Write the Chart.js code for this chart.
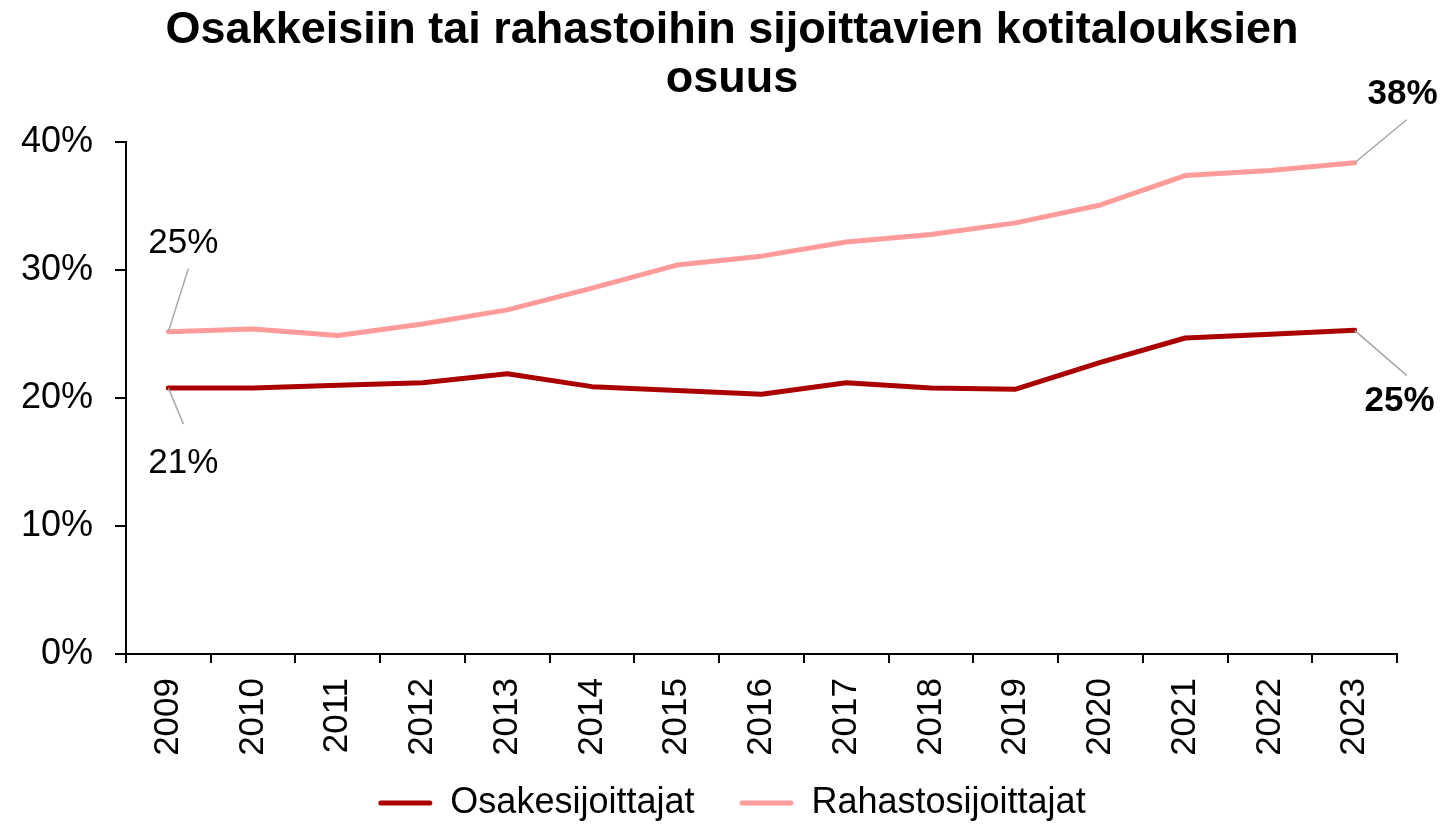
<!DOCTYPE html>
<html><head><meta charset="utf-8">
<script src="https://cdn.jsdelivr.net/npm/chart.js@4"></script>
<style>html,body{margin:0;padding:0;background:#fff}</style>
</head><body>
<canvas id="c" width="1445" height="824"></canvas>
<script>
const years = ['2009','2010','2011','2012','2013','2014','2015','2016','2017','2018','2019','2020','2021','2022','2023'];
const osakeValues = [20.8, 20.8, 21.0, 21.2, 21.9, 20.9, 20.6, 20.3, 21.2, 20.8, 20.7, 22.8, 24.7, 25.0, 25.3];
const rahastoValues = [25.2, 25.4, 24.9, 25.8, 26.9, 28.6, 30.4, 31.1, 32.2, 32.8, 33.7, 35.1, 37.4, 37.8, 38.4];
const yTicks = [0, 10, 20, 30, 40];
const titleLines = ['Osakkeisiin tai rahastoihin sijoittavien kotitalouksien', 'osuus'];
const seriesNames = ['Osakesijoittajat', 'Rahastosijoittajat'];

const FONT = '"Liberation Sans", Arial, sans-serif';
Chart.defaults.font.family = FONT;
Chart.defaults.color = '#000';

const last = years.length - 1;
const labelSpecs = [
  {ds: 1, idx: 0, lx: 20, ly: -63, tx: 15, ty: -88, bold: false},
  {ds: 0, idx: 0, lx: 15, ly: 36, tx: 15, ty: 75, bold: false},
  {ds: 1, idx: last, lx: 52, ly: -43, tx: 48, ty: -68, bold: true},
  {ds: 0, idx: last, lx: 52, ly: 45, tx: 45, ty: 71, bold: true}
];

const pointLabels = {
  id: 'pointLabels',
  afterDatasetsDraw(chart) {
    const ctx = chart.ctx;
    ctx.save();
    labelSpecs.forEach(s => {
      const pt = chart.getDatasetMeta(s.ds).data[s.idx];
      const v = chart.data.datasets[s.ds].data[s.idx];
      ctx.strokeStyle = '#A6A6A6';
      ctx.lineWidth = 1.5;
      ctx.beginPath();
      ctx.moveTo(pt.x, pt.y);
      ctx.lineTo(pt.x + s.lx, pt.y + s.ly);
      ctx.stroke();
      ctx.fillStyle = '#000';
      ctx.font = (s.bold ? 'bold ' : '') + '35px ' + FONT;
      ctx.textAlign = 'center';
      ctx.textBaseline = 'middle';
      ctx.fillText(Math.round(v) + '%', pt.x + s.tx, pt.y + s.ty);
    });
    ctx.restore();
  }
};

// let the axis labels draw outside their fixed-size scale boxes (avoid label clipping)
const unclipLabels = {
  id: 'unclipLabels',
  afterLayout(chart) {
    chart.scales.y.left = 0;
    chart.scales.x.bottom = chart.height;
  }
};

new Chart(document.getElementById('c'), {
  type: 'line',
  data: {
    labels: years,
    datasets: [
      {label: seriesNames[0], data: osakeValues, borderColor: '#AA0000', backgroundColor: '#AA0000',
       borderWidth: 5, pointRadius: 0, tension: 0, borderJoinStyle: 'round', borderCapStyle: 'round'},
      {label: seriesNames[1], data: rahastoValues, borderColor: '#FF9B99', backgroundColor: '#FF9B99',
       borderWidth: 5, pointRadius: 0, tension: 0, borderJoinStyle: 'round', borderCapStyle: 'round'}
    ]
  },
  options: {
    responsive: false,
    animation: false,
    layout: {padding: {left: 67, right: 48, top: 0, bottom: 0}},
    plugins: {
      title: {display: true, text: titleLines, color: '#000',
        font: {size: 45, weight: 'bold', lineHeight: 1.07}, padding: {top: 7, bottom: 39}},
      legend: {position: 'bottom', maxHeight: 84,
        labels: {font: {size: 36}, color: '#000', boxWidth: 54, boxHeight: 5, padding: 45,
          useBorderRadius: true, borderRadius: 2.5,
          generateLabels(chart) {
            const items = Chart.defaults.plugins.legend.labels.generateLabels(chart);
            items.forEach(i => { i.lineWidth = 0; i.fillStyle = i.strokeStyle; });
            return items;
          }}},
      tooltip: {enabled: false}
    },
    scales: {
      x: {
        offset: true,
        grid: {offset: true, drawOnChartArea: false, drawTicks: true, tickLength: 9, color: '#000', lineWidth: 2},
        border: {display: true, color: '#000', width: 2},
        ticks: {autoSkip: false, maxRotation: 90, minRotation: 90, font: {size: 35}, color: '#000', padding: 15},
        afterFit(s) { s.height = 86; }
      },
      y: {
        min: 0, max: 40,
        afterBuildTicks(s) { s.ticks = yTicks.map(v => ({value: v})); },
        ticks: {font: {size: 36}, color: '#000', padding: 22, callback: v => v + '%'},
        grid: {drawOnChartArea: false, drawTicks: true, tickLength: 11, color: '#000', lineWidth: 2},
        border: {display: true, color: '#000', width: 2},
        afterFit(s) { s.width = 59; }
      }
    }
  },
  plugins: [pointLabels, unclipLabels]
});
</script>
</body></html>
